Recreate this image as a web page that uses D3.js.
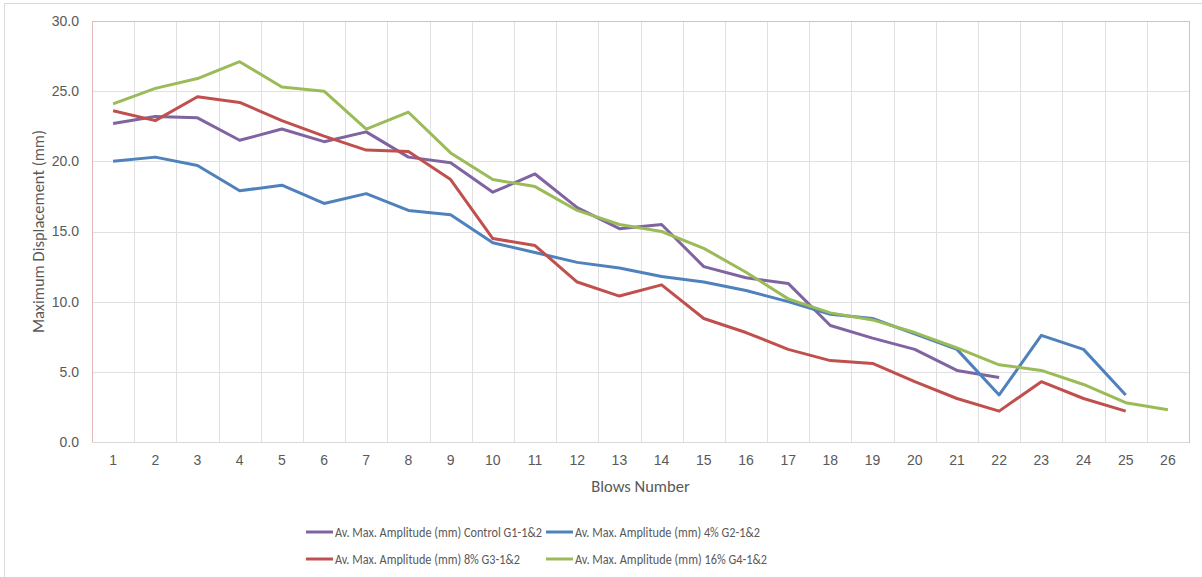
<!DOCTYPE html>
<html>
<head>
<meta charset="utf-8">
<script src="https://cdn.jsdelivr.net/npm/d3@7"></script>
<style>
    body { margin: 0; background: #fff; }
    svg { font-family: Carlito, Calibri, Lato, sans-serif; }
    .tick text { fill: #595959; font-size: 14px; }
</style>
</head>
<body>
<div id="chart"></div>
<script>
// blows 1..26
const blows = d3.range(1, 27).map(String);

const yTicks = [0, 5, 10, 15, 20, 25, 30];

const controlG1 = [22.7, 23.2, 23.1, 21.5, 22.3, 21.4, 22.1, 20.3, 19.9, 17.8, 19.1, 16.7, 15.2, 15.5, 12.5, 11.7, 11.3, 8.3, 7.4, 6.6, 5.1, 4.6];
const pct4G2 = [20.0, 20.3, 19.7, 17.9, 18.3, 17.0, 17.7, 16.5, 16.2, 14.2, 13.5, 12.8, 12.4, 11.8, 11.4, 10.8, 10.0, 9.1, 8.8, 7.7, 6.6, 3.35, 7.6, 6.6, 3.35];
const pct8G3 = [23.6, 22.9, 24.6, 24.2, 22.9, 21.8, 20.8, 20.7, 18.7, 14.5, 14.0, 11.4, 10.4, 11.2, 8.8, 7.8, 6.6, 5.8, 5.6, 4.3, 3.1, 2.2, 4.3, 3.1, 2.2];
const pct16G4 = [24.1, 25.2, 25.9, 27.1, 25.3, 25.0, 22.3, 23.5, 20.6, 18.7, 18.2, 16.5, 15.5, 15.0, 13.8, 12.1, 10.2, 9.2, 8.7, 7.8, 6.7, 5.5, 5.1, 4.1, 2.8, 2.3];

const seriesNames = [
    'Av. Max. Amplitude (mm) Control G1-1&2',
    'Av. Max. Amplitude (mm) 4% G2-1&2',
    'Av. Max. Amplitude (mm) 8% G3-1&2',
    'Av. Max. Amplitude (mm) 16% G4-1&2'
];
const seriesColors = ['#8064A2', '#4F81BD', '#C0504D', '#9BBB59'];
const seriesValues = [controlG1, pct4G2, pct8G3, pct16G4];

const W = 1202, H = 577;
const margin = { top: 21, right: 13, bottom: 135, left: 92 };
const width = W - margin.left - margin.right;
const height = H - margin.top - margin.bottom;

const root = d3.select('#chart')
    .append('svg')
        .attr('width', W)
        .attr('height', H);

// outer chart frame
root.append('rect')
    .attr('x', 4.5).attr('y', 3.5)
    .attr('width', W - 4).attr('height', H)
    .attr('fill', 'none')
    .attr('stroke', '#d9d9d9');

const svg = root.append('g')
    .attr('transform', 'translate(' + margin.left + ',' + margin.top + ')');

const x = d3.scaleBand()
    .domain(blows)
    .range([0, width]);

const y = d3.scaleLinear()
    .domain([0, 30])
    .range([height, 0]);

// horizontal gridlines
svg.append('g')
    .selectAll('line')
    .data(yTicks)
    .join('line')
        .attr('x1', 0).attr('x2', width)
        .attr('y1', (d) => Math.round(y(d)) + 0.5)
        .attr('y2', (d) => Math.round(y(d)) + 0.5)
        .attr('stroke', '#e0e0e0');

// vertical gridlines between categories
svg.append('g')
    .selectAll('line')
    .data(blows.slice(1))
    .join('line')
        .attr('x1', (d) => Math.round(x(d)) + 0.5)
        .attr('x2', (d) => Math.round(x(d)) + 0.5)
        .attr('y1', 0).attr('y2', height)
        .attr('stroke', '#e0e0e0');

// plot area border
svg.append('rect')
    .attr('x', 0.5).attr('y', 0.5)
    .attr('width', width).attr('height', height)
    .attr('fill', 'none')
    .attr('stroke', '#e6b9b8');

svg.append('line')
    .attr('x1', 0).attr('x2', width)
    .attr('y1', height + 0.5).attr('y2', height + 0.5)
    .attr('stroke', '#d9d9d9');

// axes
const xAxis = d3.axisBottom(x).tickSize(0).tickPadding(13);
const yAxis = d3.axisLeft(y).tickValues(yTicks).tickFormat(d3.format('.1f')).tickSize(0).tickPadding(13);

svg.append('g')
    .attr('class', 'x axis')
    .attr('transform', 'translate(0,' + height + ')')
    .call(xAxis)
    .call((g) => g.select('.domain').remove());

svg.append('g')
    .attr('class', 'y axis')
    .call(yAxis)
    .call((g) => g.select('.domain').remove());

// axis titles
root.append('text')
    .attr('x', margin.left + width / 2)
    .attr('y', 492)
    .attr('text-anchor', 'middle')
    .attr('fill', '#595959')
    .style('font-size', '16.5px')
    .text('Blows Number');

root.append('text')
    .attr('transform', 'translate(44,' + (margin.top + height / 2) + ') rotate(-90)')
    .attr('text-anchor', 'middle')
    .attr('fill', '#595959')
    .style('font-size', '16.5px')
    .text('Maximum Displacement (mm)');

// lines
const line = d3.line()
    .x((d, i) => x(blows[i]) + x.bandwidth() / 2)
    .y((d) => y(d));

svg.append('g')
    .selectAll('path')
    .data(seriesValues)
    .join('path')
        .attr('d', (d) => line(d))
        .attr('fill', 'none')
        .attr('stroke', (d, i) => seriesColors[i])
        .attr('stroke-width', 3)
        .attr('stroke-linejoin', 'round');

// legend, two rows of two
const legendPos = [[306, 532], [546, 532], [306, 559], [546, 559]];
const legendTextWidth = [207, 185, 185, 192];
const legend = root.append('g')
    .selectAll('g')
    .data(seriesNames)
    .join('g')
        .attr('transform', (d, i) => 'translate(' + legendPos[i][0] + ',' + legendPos[i][1] + ')');

legend.append('line')
    .attr('x1', 0).attr('x2', 27)
    .attr('stroke', (d, i) => seriesColors[i])
    .attr('stroke-width', 3);

legend.append('text')
    .attr('x', 29)
    .attr('dy', '0.35em')
    .attr('fill', '#595959')
    .attr('textLength', (d, i) => legendTextWidth[i])
    .attr('lengthAdjust', 'spacingAndGlyphs')
    .style('font-size', '14.5px')
    .text((d) => d);
</script>
</body>
</html>
